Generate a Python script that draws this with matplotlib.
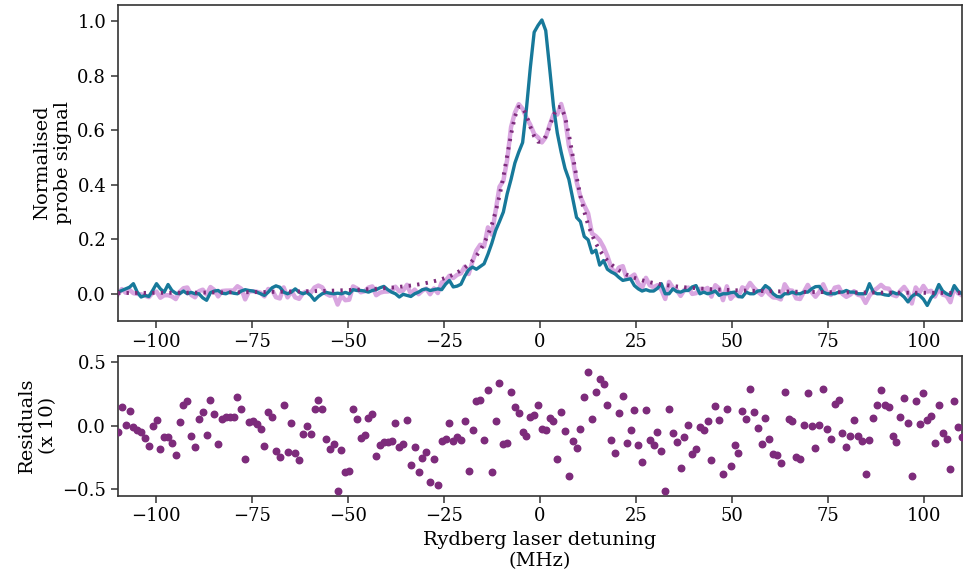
import numpy as np
import matplotlib
matplotlib.use("Agg")
import matplotlib.pyplot as plt

plt.rcParams['font.family'] = ['DejaVu Serif']
plt.rcParams['font.size'] = 14
plt.rcParams['xtick.labelsize'] = 13
plt.rcParams['ytick.labelsize'] = 13

# detuning grid (MHz), 220 samples across the scan
detuning = np.linspace(-110, 110, 220)

# reference trace (teal)
signal_ref = [
    0.006, 0.012, 0.018, 0.024, 0.037, 0.006, -0.012, -0.006, -0.010, 0.012,
    0.037, 0.018, 0.006, 0.034, 0.012, 0.002, 0.000, 0.010, 0.000, 0.005,
    0.000, 0.000, -0.015, -0.024, 0.004, 0.010, 0.012, 0.002, 0.000, 0.006,
    0.002, 0.000, 0.010, 0.015, 0.012, 0.010, 0.006, 0.000, -0.006, 0.006,
    0.022, 0.029, 0.024, 0.006, 0.000, 0.006, 0.018, 0.006, 0.000, 0.005,
    -0.006, -0.024, -0.010, 0.000, 0.005, 0.002, 0.000, 0.002, 0.000, 0.005,
    0.000, 0.015, 0.012, 0.012, 0.010, 0.006, 0.012, 0.015, 0.022, 0.027,
    0.015, 0.006, 0.000, -0.012, -0.002, -0.006, -0.010, 0.000, 0.006, 0.015,
    0.018, 0.012, 0.015, 0.018, 0.015, 0.035, 0.049, 0.025, 0.028, 0.035,
    0.065, 0.088, 0.098, 0.090, 0.100, 0.110, 0.145, 0.185, 0.232, 0.265,
    0.300, 0.367, 0.420, 0.480, 0.520, 0.555, 0.680, 0.830, 0.960, 0.985,
    1.005, 0.966, 0.830, 0.690, 0.590, 0.520, 0.460, 0.420, 0.350, 0.280,
    0.265, 0.210, 0.198, 0.150, 0.160, 0.105, 0.122, 0.090, 0.080, 0.073,
    0.060, 0.049, 0.052, 0.055, 0.030, 0.018, 0.010, 0.015, 0.010, 0.010,
    0.020, 0.037, 0.000, 0.000, 0.018, 0.008, 0.006, 0.012, 0.012, 0.025,
    0.030, 0.000, 0.006, 0.000, 0.004, 0.010, -0.006, 0.000, 0.000, 0.004,
    0.006, -0.010, -0.012, 0.006, 0.000, 0.000, 0.010, 0.012, 0.030, 0.020,
    0.000, -0.010, -0.012, 0.000, 0.000, 0.006, 0.000, 0.000, 0.006, 0.006,
    0.018, 0.026, 0.027, 0.006, 0.000, 0.000, 0.000, 0.006, 0.006, 0.012,
    0.006, 0.006, 0.000, 0.000, 0.000, 0.037, 0.006, 0.000, 0.000, -0.004,
    -0.006, 0.006, 0.000, 0.000, -0.012, -0.030, -0.010, 0.000, -0.006, -0.020,
    -0.043, -0.015, 0.000, 0.034, 0.010, 0.000, -0.006, 0.030, 0.010, 0.000,
]

# model fit (dotted)
fit = [
    0.0027, 0.0028, 0.0028, 0.0029, 0.0029, 0.0030, 0.0030, 0.0031, 0.0032, 0.0032,
    0.0033, 0.0034, 0.0035, 0.0035, 0.0036, 0.0037, 0.0038, 0.0038, 0.0039, 0.0040,
    0.0041, 0.0042, 0.0043, 0.0044, 0.0045, 0.0046, 0.0047, 0.0048, 0.0049, 0.0050,
    0.0051, 0.0053, 0.0054, 0.0055, 0.0057, 0.0058, 0.0060, 0.0062, 0.0063, 0.0065,
    0.0067, 0.0069, 0.0071, 0.0073, 0.0076, 0.0078, 0.0081, 0.0083, 0.0086, 0.0089,
    0.0092, 0.0095, 0.0099, 0.0102, 0.0106, 0.0110, 0.0115, 0.0119, 0.0124, 0.0129,
    0.0134, 0.0140, 0.0146, 0.0153, 0.0160, 0.0167, 0.0175, 0.0184, 0.0193, 0.0203,
    0.0214, 0.0225, 0.0238, 0.0252, 0.0267, 0.0283, 0.0301, 0.0321, 0.0343, 0.0367,
    0.0394, 0.0424, 0.0458, 0.0495, 0.0537, 0.0585, 0.0640, 0.0700, 0.0780, 0.0860,
    0.0960, 0.1080, 0.1220, 0.1390, 0.1600, 0.1850, 0.2160, 0.2530, 0.3010, 0.3590,
    0.4290, 0.5060, 0.5850, 0.6500, 0.6860, 0.6840, 0.6540, 0.6130, 0.5780, 0.5580,
    0.5580, 0.5780, 0.6130, 0.6540, 0.6840, 0.6860, 0.6500, 0.5850, 0.5060, 0.4290,
    0.3590, 0.3010, 0.2530, 0.2160, 0.1850, 0.1600, 0.1390, 0.1220, 0.1080, 0.0960,
    0.0860, 0.0780, 0.0700, 0.0640, 0.0585, 0.0537, 0.0495, 0.0458, 0.0424, 0.0394,
    0.0367, 0.0343, 0.0321, 0.0301, 0.0283, 0.0267, 0.0252, 0.0238, 0.0225, 0.0214,
    0.0203, 0.0193, 0.0184, 0.0175, 0.0167, 0.0160, 0.0153, 0.0146, 0.0140, 0.0134,
    0.0129, 0.0124, 0.0119, 0.0115, 0.0110, 0.0106, 0.0102, 0.0099, 0.0095, 0.0092,
    0.0089, 0.0086, 0.0083, 0.0081, 0.0078, 0.0076, 0.0073, 0.0071, 0.0069, 0.0067,
    0.0065, 0.0063, 0.0062, 0.0060, 0.0058, 0.0057, 0.0055, 0.0054, 0.0053, 0.0051,
    0.0050, 0.0049, 0.0048, 0.0047, 0.0046, 0.0045, 0.0044, 0.0043, 0.0042, 0.0041,
    0.0040, 0.0039, 0.0038, 0.0038, 0.0037, 0.0036, 0.0035, 0.0035, 0.0034, 0.0033,
    0.0032, 0.0032, 0.0031, 0.0030, 0.0030, 0.0029, 0.0029, 0.0028, 0.0028, 0.0027,
]

# residuals of the measured trace against the fit, scaled x10
residuals = [
    -0.052, 0.144, 0.008, 0.113, -0.008, -0.034, -0.050, -0.099, -0.157, 0.000,
    0.047, -0.181, -0.089, -0.089, -0.136, -0.233, 0.031, 0.165, 0.191, -0.084,
    -0.170, 0.052, 0.107, -0.073, 0.202, 0.092, -0.144, 0.052, 0.065, 0.065,
    0.068, 0.223, 0.131, -0.262, 0.031, 0.034, 0.013, -0.024, -0.160, 0.110,
    0.065, -0.196, -0.243, 0.160, -0.209, 0.021, -0.215, -0.270, -0.063, 0.000,
    -0.063, 0.134, 0.202, 0.134, -0.105, -0.181, -0.141, -0.516, -0.191, -0.366,
    -0.353, 0.131, 0.050, -0.099, -0.071, 0.060, 0.094, -0.238, -0.154, -0.126,
    -0.131, -0.118, 0.021, -0.165, -0.147, 0.045, -0.309, -0.168, -0.361, -0.251,
    -0.204, -0.442, -0.262, -0.469, -0.120, -0.107, 0.021, -0.123, -0.086, -0.110,
    0.039, -0.356, -0.031, 0.196, 0.199, -0.115, 0.277, -0.361, 0.037, 0.335,
    -0.141, -0.139, 0.267, 0.147, 0.099, -0.052, -0.079, 0.071, 0.086, 0.160,
    -0.026, -0.034, 0.058, 0.039, -0.262, 0.107, -0.045, -0.398, -0.123, -0.178,
    -0.026, 0.228, 0.421, 0.052, 0.264, 0.366, 0.325, 0.165, -0.115, -0.215,
    0.102, 0.233, -0.134, -0.034, 0.120, -0.149, -0.285, 0.126, -0.115, -0.154,
    -0.052, -0.196, -0.513, 0.134, -0.060, -0.128, -0.330, -0.092, 0.003, -0.220,
    -0.183, -0.013, -0.037, 0.039, -0.272, 0.154, 0.045, -0.382, 0.134, -0.319,
    -0.152, -0.217, 0.115, 0.050, 0.288, 0.110, -0.021, -0.141, 0.060, -0.105,
    -0.223, -0.230, -0.291, 0.267, 0.052, 0.037, -0.243, -0.264, 0.003, 0.257,
    -0.005, -0.173, 0.005, 0.288, -0.026, -0.102, 0.168, 0.204, -0.060, -0.165,
    -0.084, 0.047, -0.084, -0.123, -0.382, -0.113, 0.058, 0.160, 0.283, 0.162,
    0.147, -0.081, -0.128, 0.068, 0.215, 0.021, -0.393, 0.196, 0.010, 0.254,
    0.047, 0.076, -0.134, 0.160, -0.060, -0.105, -0.340, 0.191, -0.008, -0.086,
]

# measured trace = fit + residual (residuals are plotted x10)
signal_meas = np.array(fit) + np.array(residuals) / 10

TEAL = '#17799a'
PINK = '#d9a6e0'
PURPLE = '#7d2b7b'

fig = plt.figure(figsize=(9.63, 5.79), dpi=100)
ax_top = fig.add_axes([0.1225, 0.4456, 0.8764, 0.5458])
ax_res = fig.add_axes([0.1225, 0.1439, 0.8764, 0.2418])

ax_top.plot(detuning, signal_meas, color=PINK, linewidth=3.2, zorder=1)
ax_top.plot(detuning, signal_ref, color=TEAL, linewidth=2.4, zorder=2)
ax_top.plot(detuning, fit, color=PURPLE, linewidth=2.8, linestyle=(0, (0.6, 1.6)), zorder=3)

ax_top.set_xlim(-110, 110)
ax_top.set_ylim(-0.1, 1.06)
ax_top.set_xticks([-100, -75, -50, -25, 0, 25, 50, 75, 100])
ax_top.set_yticks([0.0, 0.2, 0.4, 0.6, 0.8, 1.0])
ax_top.set_ylabel('Normalised\nprobe signal')

ax_res.scatter(detuning, residuals, color=PURPLE, s=22, zorder=3)
ax_res.set_xlim(-110, 110)
ax_res.set_ylim(-0.55, 0.55)
ax_res.set_xticks([-100, -75, -50, -25, 0, 25, 50, 75, 100])
ax_res.set_yticks([-0.5, 0.0, 0.5])
ax_res.set_ylabel('Residuals\n(x 10)')
ax_res.set_xlabel('Rydberg laser detuning\n(MHz)')

for ax in (ax_top, ax_res):
    for spine in ax.spines.values():
        spine.set_color('#333333')
        spine.set_linewidth(1.2)
    ax.tick_params(length=5, width=1.1, color='#333333')

fig.savefig('out.png', dpi=100)
